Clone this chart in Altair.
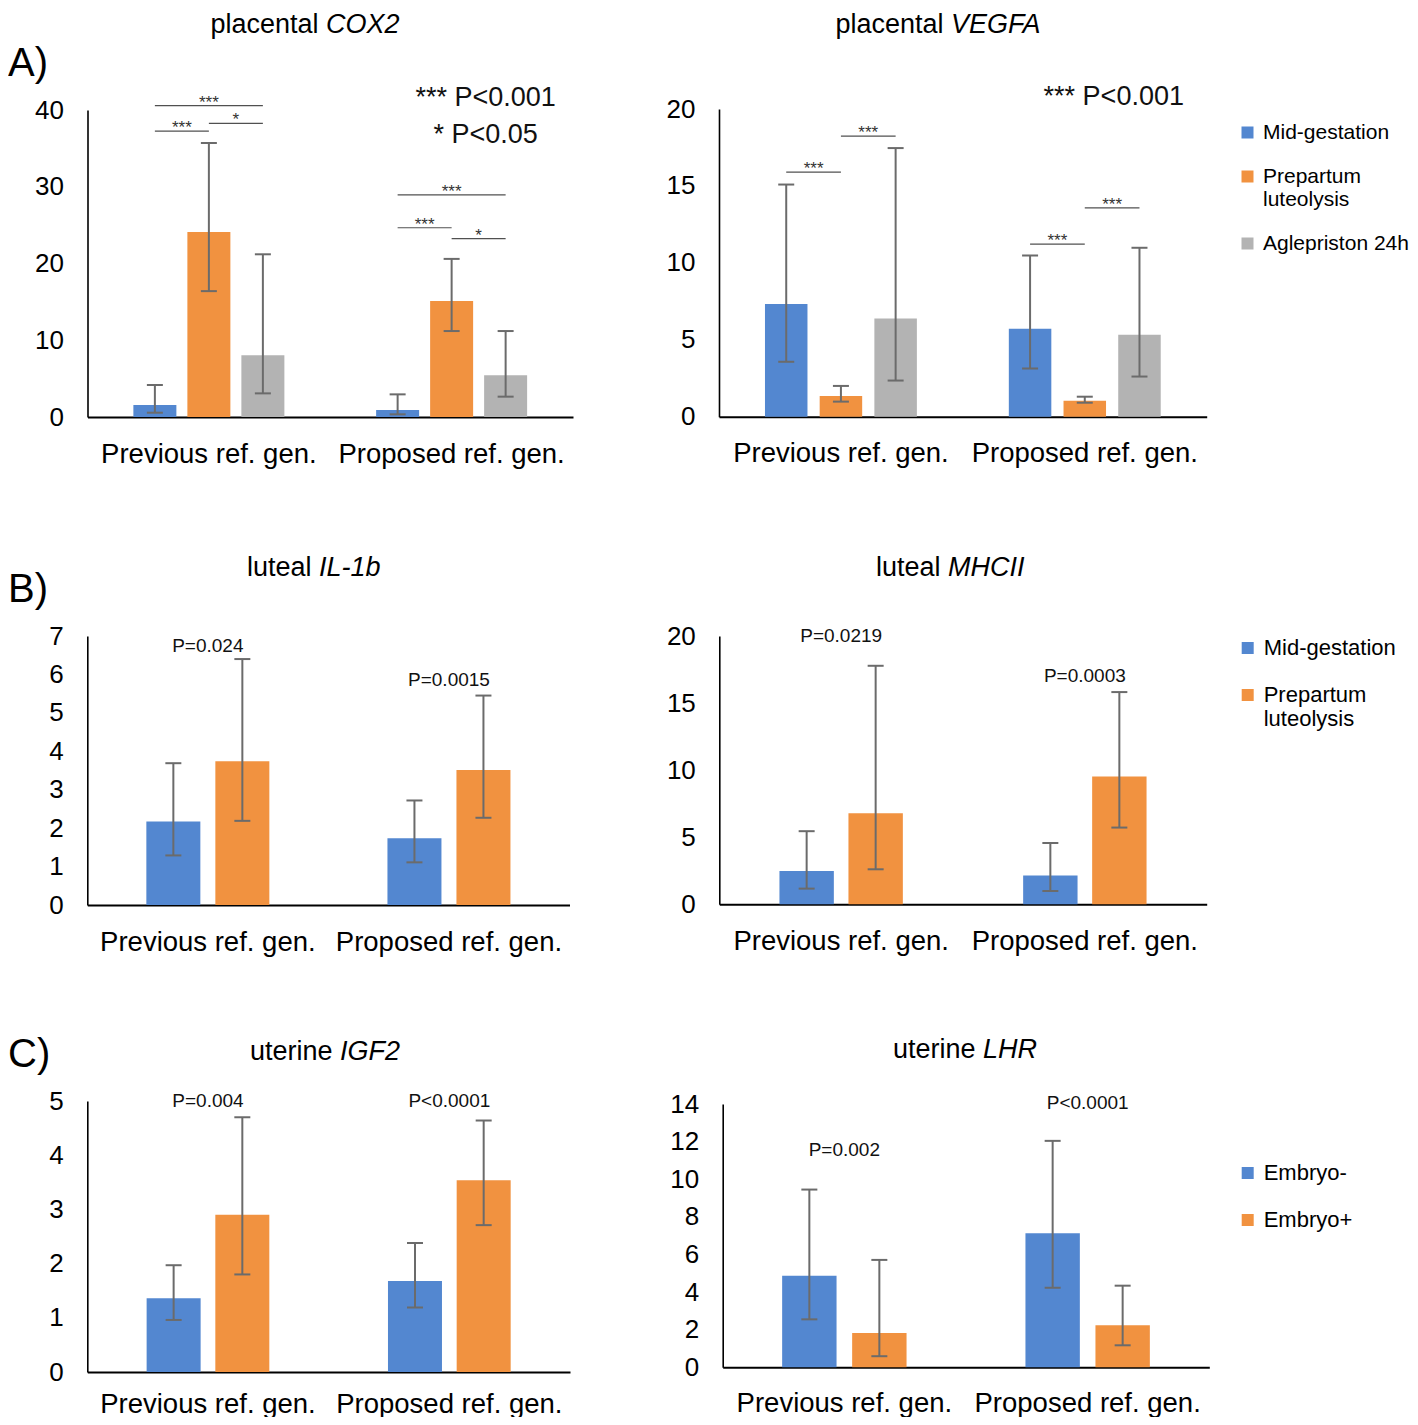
import altair as alt
import pandas as pd

# ---------------- data ----------------
GROUPS = ["Previous ref. gen.", "Proposed ref. gen."]
SERIES_A = ["Mid-gestation", "Prepartum luteolysis", "Aglepriston 24h"]
SERIES_B = ["Mid-gestation", "Prepartum luteolysis"]
SERIES_C = ["Embryo-", "Embryo+"]
COLORS = ["#5387D0", "#F19240", "#B3B3B3"]

# [group][series]
cox2_mean = [[1.56, 24.1, 8.03], [0.91, 15.1, 5.43]]
cox2_hi = [[4.17, 35.7, 21.2], [2.95, 20.6, 11.2]]
cox2_lo = [[0.56, 16.4, 3.08], [0.35, 11.2, 2.65]]

vegfa_mean = [[7.33, 1.35, 6.39], [5.72, 1.04, 5.33]]
vegfa_hi = [[15.09, 2.0, 17.46], [10.48, 1.30, 10.98]]
vegfa_lo = [[3.57, 0.98, 2.35], [3.13, 0.91, 2.61]]

il1b_mean = [[2.17, 3.74], [1.74, 3.51]]
il1b_hi = [[3.69, 6.40], [2.72, 5.45]]
il1b_lo = [[1.29, 2.19], [1.11, 2.27]]

mhcii_mean = [[2.48, 6.79], [2.14, 9.52]]
mhcii_hi = [[5.45, 17.78], [4.57, 15.82]]
mhcii_lo = [[1.17, 2.61], [0.99, 5.72]]

igf2_mean = [[1.36, 2.90], [1.68, 3.54]]
igf2_hi = [[1.97, 4.70], [2.38, 4.64]]
igf2_lo = [[0.96, 1.80], [1.19, 2.71]]

lhr_mean = [[4.87, 1.82], [7.13, 2.23]]
lhr_hi = [[9.45, 5.71], [12.04, 4.34]]
lhr_lo = [[2.55, 0.59], [4.23, 1.17]]

# significance brackets: (group, from series idx, to series idx, level, label)
cox2_brackets = [
    ("Previous ref. gen.", 0, 1, 37.26, "***"),
    ("Previous ref. gen.", 1, 2, 38.27, "*"),
    ("Previous ref. gen.", 0, 2, 40.56, "***"),
    ("Proposed ref. gen.", 0, 1, 24.66, "***"),
    ("Proposed ref. gen.", 1, 2, 23.23, "*"),
    ("Proposed ref. gen.", 0, 2, 28.93, "***"),
]
vegfa_brackets = [
    ("Previous ref. gen.", 0, 1, 15.9, "***"),
    ("Previous ref. gen.", 1, 2, 18.24, "***"),
    ("Proposed ref. gen.", 0, 1, 11.22, "***"),
    ("Proposed ref. gen.", 1, 2, 13.57, "***"),
]
# p-value labels: (group, level, text)
il1b_p = [("Previous ref. gen.", 6.73, "P=0.024"), ("Proposed ref. gen.", 5.86, "P=0.0015")]
mhcii_p = [("Previous ref. gen.", 20.0, "P=0.0219"), ("Proposed ref. gen.", 17.03, "P=0.0003")]
igf2_p = [("Previous ref. gen.", 5.0, "P=0.004"), ("Proposed ref. gen.", 5.0, "P<0.0001")]
lhr_p = [("Previous ref. gen.", 11.56, "P=0.002"), ("Proposed ref. gen.", 14.07, "P<0.0001")]
# significance keys: (group, level, text)
cox2_key = [("Proposed ref. gen.", 41.5, "*** P<0.001"), ("Proposed ref. gen.", 36.7, "* P<0.05")]
vegfa_key = [("Proposed ref. gen.", 20.75, "*** P<0.001")]

TITLE_PREFIX = ["placental", "placental", "luteal", "luteal", "uterine", "uterine"]
TITLE_GENE = ["COX2", "VEGFA", "IL-1b", "MHCII", "IGF2", "LHR"]
SECTIONS = ["A)", "B)", "C)"]

# ---------------- layout / style ----------------
OX, OY = 8, 8
W, H = 1402, 1409
FONT = "Liberation Sans"
INK = "#000000"
ERR = "#6b6b6b"


def cx(v):
    return v - OX


def cy(v):
    return v - OY


LAYOUT = {
    "cox2": dict(x0=87.5, x1=573, y0=417, ytop=110, ymax=40, ticks=[0, 10, 20, 30, 40], bw=43, step=54, xpad=23),
    "vegfa": dict(x0=719, x1=1206.7, y0=416.7, ytop=109, ymax=20, ticks=[0, 5, 10, 15, 20], bw=42.5, step=54.7, xpad=23),
    "il1b": dict(x0=87.3, x1=569.5, y0=905, ytop=636, ymax=7, ticks=[0, 1, 2, 3, 4, 5, 6, 7], bw=54, step=69, xpad=23),
    "mhcii": dict(x0=719.3, x1=1206.7, y0=904.3, ytop=636, ymax=20, ticks=[0, 5, 10, 15, 20], bw=54.4, step=69, xpad=23),
    "igf2": dict(x0=87.3, x1=570, y0=1372, ytop=1101, ymax=5, ticks=[0, 1, 2, 3, 4, 5], bw=54, step=68.7, xpad=18),
    "lhr": dict(x0=722.7, x1=1209.3, y0=1367.3, ytop=1104, ymax=14, ticks=[0, 2, 4, 6, 8, 10, 12, 14], bw=54.4, step=70, xpad=22),
}
TITLE_POS = [(326, 32.5), (951, 32.5), (319, 576), (948, 576), (340, 1060), (983, 1058)]
SECTION_POS = [(8, 76), (8, 602), (8, 1067)]
KEY_DX = {"cox2": 34, "vegfa": 29}


def build_panel(name, means, his, los, series, legend=None, brackets=None, ptexts=None, keytexts=None):
    L = LAYOUT[name]
    n = len(series)
    half = (L["x1"] - L["x0"]) / 2.0
    pi = 1 - L["bw"] / L["step"]
    po = (half / L["step"] - n + pi) / 2.0
    xs = alt.Scale(domain=GROUPS, range=[cx(L["x0"]), cx(L["x1"])], paddingInner=0, paddingOuter=0)
    xos = alt.Scale(domain=series, paddingInner=pi, paddingOuter=po)
    ys = alt.Scale(domain=[0, L["ymax"]], range=[cy(L["y0"]), cy(L["ytop"])], nice=False, zero=False)
    xaxis = alt.Axis(orient="bottom", offset=cy(L["y0"]) - H, title=None, ticks=False, grid=False,
                     domainColor=INK, domainWidth=2, labelFont=FONT, labelFontSize=27.5, labelColor=INK,
                     labelPadding=L["xpad"], labelAngle=0, labelLimit=0, labelOverlap=False)
    yaxis = alt.Axis(orient="left", offset=-cx(L["x0"]), title=None, ticks=False, grid=False,
                     values=L["ticks"], domainColor=INK, domainWidth=1.6, labelFont=FONT, labelFontSize=26,
                     labelColor=INK, labelPadding=24, labelOverlap=False, labelFlush=False)

    rows = []
    for gi, g in enumerate(GROUPS):
        for si, s in enumerate(series):
            rows.append(dict(group=g, series=s, mean=means[gi][si], hi=his[gi][si], lo=los[gi][si]))
    base = alt.Chart(pd.DataFrame(rows))
    XX = alt.X("group:N", scale=xs, axis=xaxis)
    XO = alt.XOffset("series:N", scale=xos)

    def Y(field):
        return alt.Y(field, scale=ys, axis=yaxis)

    layers = []
    layers.append(base.mark_bar().encode(
        x=XX, xOffset=XO, y=Y("mean:Q"),
        color=alt.Color("series:N", scale=alt.Scale(domain=series, range=COLORS[:n]), legend=legend),
    ))
    layers.append(base.mark_rule(color=ERR, strokeWidth=2).encode(
        x=XX, xOffset=XO, y=Y("lo:Q"), y2="hi:Q"))
    layers.append(base.transform_fold(["lo", "hi"], as_=["end", "val"]).mark_tick(
        color=ERR, thickness=2, size=16, opacity=1).encode(x=XX, xOffset=XO, y=Y("val:Q")))

    if brackets:
        lrows, trows = [], []
        for i, (g, a, b, lvl, lab) in enumerate(brackets):
            lrows.append(dict(bid=i, group=g, series=series[a], level=lvl))
            lrows.append(dict(bid=i, group=g, series=series[b], level=lvl))
            trows.append(dict(group=g, series=series[(a + b) // 2], level=lvl, label=lab, half=(a + b) % 2))
        layers.append(alt.Chart(pd.DataFrame(lrows)).mark_line(color="#505050", strokeWidth=1.2).encode(
            x=XX, xOffset=XO, y=Y("level:Q"), detail="bid:N"))
        tdf = pd.DataFrame(trows)
        for h in (0, 1):
            sub = tdf[tdf["half"] == h]
            if len(sub):
                layers.append(alt.Chart(sub).mark_text(
                    font=FONT, fontSize=17, color="#333333", baseline="alphabetic", dy=2,
                    dx=L["step"] / 2.0 * h).encode(x=XX, xOffset=XO, y=Y("level:Q"), text="label:N"))
    if ptexts:
        pdf = pd.DataFrame([dict(group=g, level=l, label=t) for g, l, t in ptexts])
        layers.append(alt.Chart(pdf).mark_text(font=FONT, fontSize=19, color="#111111", baseline="middle").encode(
            x=XX, y=Y("level:Q"), text="label:N"))
    if keytexts:
        kdf = pd.DataFrame([dict(group=g, level=l, label=t) for g, l, t in keytexts])
        layers.append(alt.Chart(kdf).mark_text(font=FONT, fontSize=27, color="#111111", baseline="middle",
                                               dx=KEY_DX[name]).encode(
            x=XX, y=Y("level:Q"), text="label:N"))
    return alt.layer(*layers)


def make_legend(lx, ly, fs, rowpad):
    # lx: left edge of the symbols (picture px); Vega adds ~4px before the symbol column
    return alt.Legend(orient="none", legendX=cx(lx) - 4, legendY=cy(ly), title=None, symbolType="square",
                      symbolSize=144, symbolStrokeWidth=0, symbolOpacity=1, labelFont=FONT, labelFontSize=fs,
                      labelColor=INK, labelOffset=5, rowPadding=rowpad, padding=0, labelLimit=0,
                      labelExpr="length(datum.label) > 16 ? split(datum.label, ' ') : datum.label")


panels = [
    build_panel("cox2", cox2_mean, cox2_hi, cox2_lo, SERIES_A, legend=None,
                brackets=cox2_brackets, keytexts=cox2_key),
    build_panel("vegfa", vegfa_mean, vegfa_hi, vegfa_lo, SERIES_A, legend=make_legend(1241, 122, 21, 22),
                brackets=vegfa_brackets, keytexts=vegfa_key),
    build_panel("il1b", il1b_mean, il1b_hi, il1b_lo, SERIES_B, legend=None, ptexts=il1b_p),
    build_panel("mhcii", mhcii_mean, mhcii_hi, mhcii_lo, SERIES_B, legend=make_legend(1240.7, 637, 22, 25),
                ptexts=mhcii_p),
    build_panel("igf2", igf2_mean, igf2_hi, igf2_lo, SERIES_C, legend=None, ptexts=igf2_p),
    build_panel("lhr", lhr_mean, lhr_hi, lhr_lo, SERIES_C, legend=make_legend(1240.7, 1162, 22, 25),
                ptexts=lhr_p),
]

texts = []
for i in range(6):
    sx, by = TITLE_POS[i]
    texts.append(alt.Chart(pd.DataFrame({"t": [TITLE_PREFIX[i]]})).mark_text(
        font=FONT, fontSize=27, color=INK, align="right", baseline="alphabetic",
        x=cx(sx - 7.5), y=cy(by)).encode(text="t:N"))
    texts.append(alt.Chart(pd.DataFrame({"t": [TITLE_GENE[i]]})).mark_text(
        font=FONT, fontSize=27, fontStyle="italic", color=INK, align="left", baseline="alphabetic",
        x=cx(sx), y=cy(by)).encode(text="t:N"))
for i in range(3):
    sx, by = SECTION_POS[i]
    texts.append(alt.Chart(pd.DataFrame({"t": [SECTIONS[i]]})).mark_text(
        font=FONT, fontSize=40, color=INK, align="left", baseline="alphabetic",
        x=cx(sx), y=cy(by)).encode(text="t:N"))

chart = alt.layer(*panels, *texts).resolve_scale(
    x="independent", y="independent", xOffset="independent", color="independent"
).resolve_axis(x="independent", y="independent").resolve_legend(color="independent").properties(
    width=W, height=H, padding=0, autosize=alt.AutoSizeParams(type="none"), background="white"
).configure_view(stroke=None)

chart.save("out.html", embed_options={"renderer": "svg", "actions": False})
